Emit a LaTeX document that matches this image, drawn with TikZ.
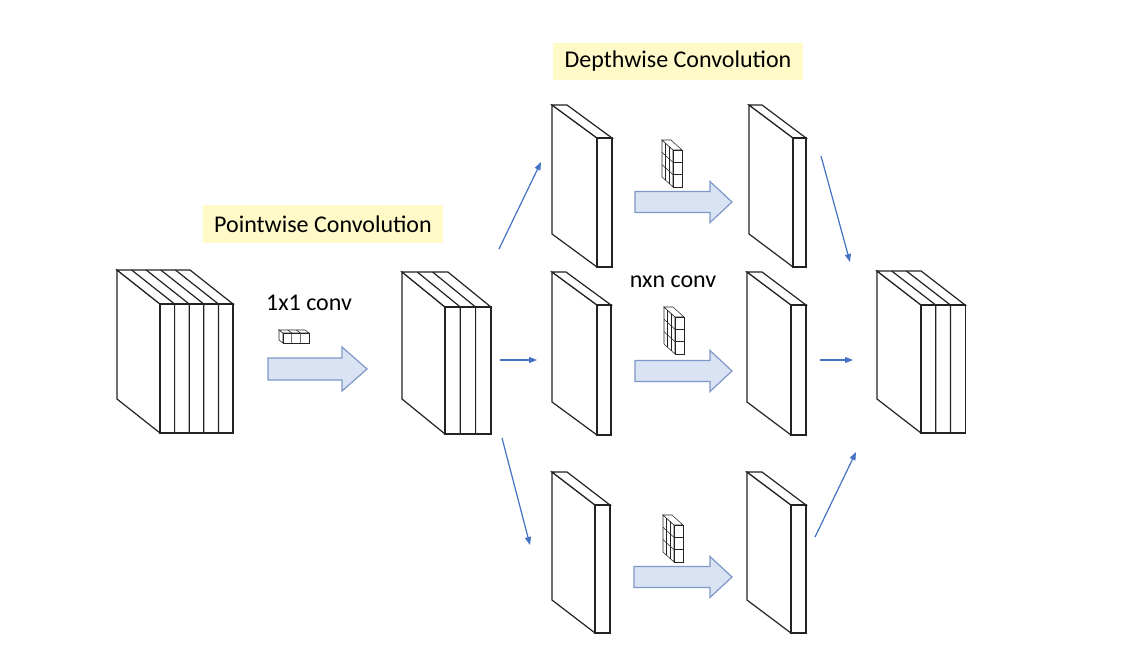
\documentclass[tikz,border=0pt]{standalone}
\usepackage{fontspec}
\setmainfont{Carlito}
\usetikzlibrary{arrows.meta}
\definecolor{thinblue}{RGB}{68,114,196}
\definecolor{arrfill}{RGB}{218,227,243}
\definecolor{arrdraw}{RGB}{125,152,200}
\definecolor{hl}{RGB}{255,250,200}
\definecolor{edgecol}{RGB}{35,35,35}
\newcommand\slabstack[8]{%
 \pgfmathsetmacro\sW{#3*#4}%
 \draw[#8] (#1,#2) -- ++(-#6,-#7) -- ++(0,#5) -- (#1,#2+#5) -- cycle;
 \draw[#8] (#1,#2) -- ++(-#6,-#7) -- ++(\sW,0) -- (#1+\sW,#2) -- cycle;
 \draw[#8] (#1,#2) rectangle (#1+\sW,#2+#5);
 \ifnum#3>1
 \pgfmathtruncatemacro\sN{#3-1}%
 \foreach \i in {1,...,\sN}{\draw[#8, fill=none] (#1+\i*#4,#2+#5) -- (#1+\i*#4,#2) -- ++(-#6,-#7);}
 \fi}
\newcommand\kernicon[2]{% front-top-left corner
 \slabstack{#1}{#2}{1}{9}{37}{11}{10}{iconline}
 \foreach \k in {1,2}{
   \draw[iconline, fill=none] (#1,#2+\k*37/3) -- ++(-11,-10);
   \draw[iconline, fill=none] (#1,#2+\k*37/3) -- ++(9,0);
   \draw[iconline, fill=none] (#1-\k*11/3,#2-\k*10/3) -- ++(0,37);
 }}
\newcommand\blockarrow[6]{% x0, yc, xbase, xtip, body half, head half
 \draw[bigarrow] (#1,#2-#5) -- (#3,#2-#5) -- (#3,#2-#6) -- (#4,#2) -- (#3,#2+#6) -- (#3,#2+#5) -- (#1,#2+#5) -- cycle;}
\tikzset{
 slabline/.style={draw=edgecol, fill=white, line width=0.9pt, line join=miter},
 iconline/.style={draw=edgecol, fill=white, line width=0.4pt},
 bigarrow/.style={draw=arrdraw, fill=arrfill, line width=0.9pt},
 thinarrow/.style={draw=thinblue, line width=0.9pt, -{Triangle[length=6pt,width=4.5pt]}},
 hlbox/.style={fill=hl, inner sep=0pt, font=\fontsize{18pt}{21pt}\selectfont},
 plainlabel/.style={inner sep=0pt, font=\fontsize{18pt}{21pt}\selectfont}
}
\begin{document}
\begin{tikzpicture}[x=0.75pt,y=-0.75pt]
\useasboundingbox (0,0) rectangle (1145,647);
\fill[white] (0,0) rectangle (1145,647);
% stacks
\slabstack{160}{304}{5}{14.6}{129}{43}{34}{slabline}
\slabstack{445}{307}{3}{15.3}{127}{43}{35}{slabline}
\slabstack{921}{305}{3}{14.7}{128}{44}{34}{slabline}
% single slabs
\slabstack{597}{138}{1}{15}{129}{45}{33}{slabline}
\slabstack{597}{305}{1}{14}{130}{45}{33}{slabline}
\slabstack{595}{505}{1}{15}{128}{43}{33}{slabline}
\slabstack{793}{138}{1}{13}{129}{44}{33}{slabline}
\slabstack{791}{305}{1}{15}{130}{44}{33}{slabline}
\slabstack{791}{505}{1}{15}{128}{44}{33}{slabline}
% block arrows
\blockarrow{268}{369}{342}{367}{11}{22}
\blockarrow{635}{202}{710}{732}{10.5}{20.5}
\blockarrow{635}{371}{710}{732}{10.5}{20.5}
\blockarrow{634}{577}{710}{732}{10.5}{20.5}
% kernel icons
\slabstack{283}{333}{3}{8.7}{10}{4}{3}{iconline}
\kernicon{673}{150}
\kernicon{675}{317}
\kernicon{674}{525}
% labels
\node[hlbox, minimum width=180pt, minimum height=28.5pt] (pw) at (323,224) {Pointwise Convolution};
\node[hlbox, minimum width=187.5pt, minimum height=27.75pt] (dw) at (678,61.5) {Depthwise Convolution};
\node[plainlabel] (c1) at (309,303) {1x1 conv};
\node[plainlabel] (cn) at (673,282) {nxn conv};
% thin arrows
\coordinate (a1s) at (499,249); \coordinate (a1e) at (541,162);
\coordinate (a2s) at (500,360); \coordinate (a2e) at (537,360);
\coordinate (a3s) at (502,438); \coordinate (a3e) at (530,545);
\coordinate (a4s) at (821,156); \coordinate (a4e) at (850,262);
\coordinate (a5s) at (820,360); \coordinate (a5e) at (853,360);
\coordinate (a6s) at (815,537); \coordinate (a6e) at (856,452);
\draw[thinarrow] (a1s) -- (a1e);
\draw[thinarrow] (a2s) -- (a2e);
\draw[thinarrow] (a3s) -- (a3e);
\draw[thinarrow] (a4s) -- (a4e);
\draw[thinarrow] (a5s) -- (a5e);
\draw[thinarrow] (a6s) -- (a6e);
\end{tikzpicture}
\end{document}
